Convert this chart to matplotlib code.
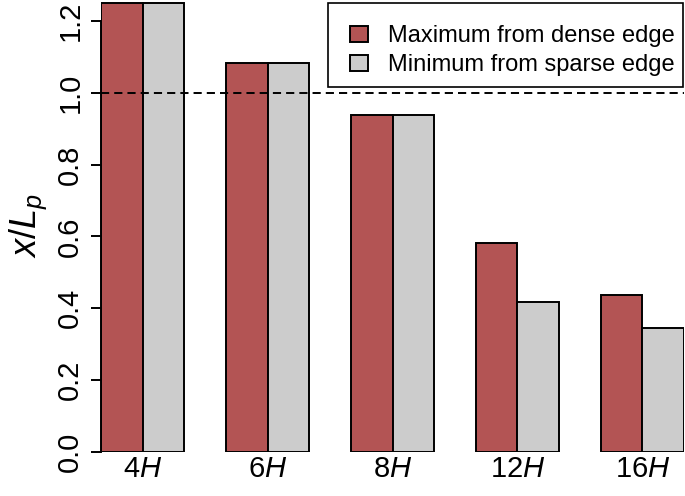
import matplotlib
matplotlib.use("Agg")
import matplotlib.pyplot as plt
from matplotlib.patches import Rectangle
import numpy as np

categories = ["4", "6", "8", "12", "16"]
max_dense = [1.25, 1.084, 0.937, 0.583, 0.438]
min_sparse = [1.25, 1.084, 0.937, 0.417, 0.344]
series_labels = ["Maximum from dense edge", "Minimum from sparse edge"]
yticks = [0.0, 0.2, 0.4, 0.6, 0.8, 1.0, 1.2]

plt.rcParams['font.family'] = ['Liberation Sans', 'DejaVu Sans']
plt.rcParams['mathtext.fontset'] = 'custom'
plt.rcParams['mathtext.rm'] = 'Liberation Sans'
plt.rcParams['mathtext.it'] = 'Liberation Sans:italic'

W, H = 685, 496
fig = plt.figure(figsize=(W/100, H/100), dpi=100)
ax = fig.add_axes([101/W, (H-452)/H, 583/W, 452/H])

red = "#B35454"
grey = "#CCCCCC"
n = len(categories)
group_left = 1 + 3*np.arange(n)
ax.bar(group_left + 0.5, max_dense, width=1.0, color=red, edgecolor="black", linewidth=1.4, label=series_labels[0])
ax.bar(group_left + 1.5, min_sparse, width=1.0, color=grey, edgecolor="black", linewidth=1.4, label=series_labels[1])

ax.axhline(1.0, color="black", linewidth=1.4, dashes=(4.2, 2.6), zorder=5)

ax.set_xlim(1, 3*n)
ax.set_ylim(0, 452/359.2)

for s in ["top", "right", "bottom"]:
    ax.spines[s].set_visible(False)
ax.spines["left"].set_bounds(0, 1.2)
ax.spines["left"].set_linewidth(1.4)

ax.set_yticks(yticks)
ax.set_yticklabels([f"{v:.1f}" for v in yticks], rotation=90, va="center", fontsize=21)
ax.tick_params(axis="y", length=7, width=1.4, pad=5)

ax.set_xticks(group_left + 1.0)
ax.set_xticklabels([f"{c}$\\mathit{{H}}$" for c in categories], fontsize=21)
ax.tick_params(axis="x", length=0, pad=2)

fig.text(28/W, 1 - 226/H, r"$x/L_p$", rotation=90, ha="center", va="center", fontsize=26)

# legend box drawn manually (asymmetric padding as in reference)
box = Rectangle((328/W, 1 - 87/H), (683-328)/W, 84/H, transform=fig.transFigure,
                facecolor="white", edgecolor="black", linewidth=1.2, zorder=10, clip_on=False)
ax.add_patch(box)
leg = ax.legend(loc="upper left", bbox_to_anchor=(350/W, 1 - 25/H), bbox_transform=fig.transFigure,
                fontsize=17, frameon=False, borderaxespad=0, borderpad=0,
                handlelength=0.76, handleheight=0.64, handletextpad=0.85,
                labelspacing=0.3)
leg.set_zorder(11)

fig.savefig("out.png", dpi=100)
